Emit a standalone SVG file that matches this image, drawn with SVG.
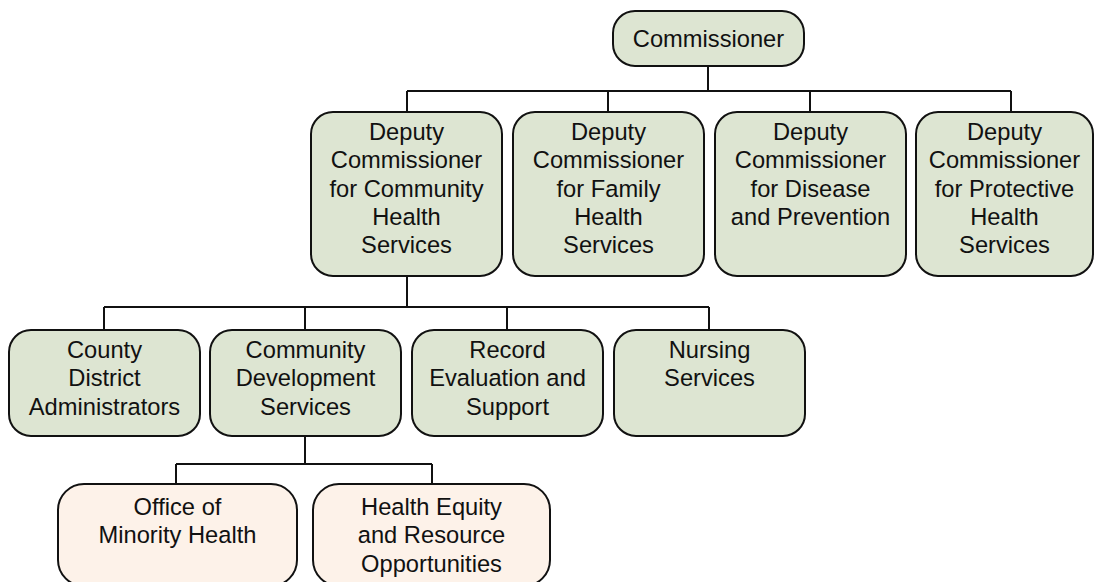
<svg xmlns="http://www.w3.org/2000/svg" width="1095" height="582" viewBox="0 0 1095 582">
  <style>
    .box { fill: #dde5d2; stroke: #111; stroke-width: 2; }
    .box.peach { fill: #fdf2e9; }
    .lbl { font-family: "Liberation Sans", Arial, sans-serif; font-size: 23.7px; fill: #111; text-anchor: middle; }
    .wire { fill: none; stroke: #111; stroke-width: 2; }
  </style>
  <rect width="1095" height="582" fill="#ffffff"/>

  <!-- reporting lines -->
  <g id="connectors">
    <path class="wire" d="M708,66 V91 M407,91 H1011 M407,91 V112 M608,91 V112 M810,91 V112 M1011,91 V112"/>
    <path class="wire" d="M407,276 V307 M104,307 H709 M104,307 V330 M305,307 V330 M507,307 V330 M709,307 V330"/>
    <path class="wire" d="M305,436 V464 M176,464 H432 M176,464 V484 M432,464 V484"/>
  </g>

  <g id="commissioner">
    <rect class="box" x="613" y="11" width="191" height="55" rx="22"/>
    <text class="lbl" x="708.5" y="47">Commissioner</text>
  </g>

  <g id="dc-community">
    <rect class="box" x="311" y="112" width="191" height="164" rx="22"/>
    <text class="lbl" x="406.5" y="140">Deputy<tspan x="406.5" dy="28.3">Commissioner</tspan><tspan x="406.5" dy="28.3">for Community</tspan><tspan x="406.5" dy="28.3">Health</tspan><tspan x="406.5" dy="28.3">Services</tspan></text>
  </g>

  <g id="dc-family">
    <rect class="box" x="513" y="112" width="191" height="164" rx="22"/>
    <text class="lbl" x="608.5" y="140">Deputy<tspan x="608.5" dy="28.3">Commissioner</tspan><tspan x="608.5" dy="28.3">for Family</tspan><tspan x="608.5" dy="28.3">Health</tspan><tspan x="608.5" dy="28.3">Services</tspan></text>
  </g>

  <g id="dc-disease">
    <rect class="box" x="715" y="112" width="191" height="164" rx="22"/>
    <text class="lbl" x="810.5" y="140">Deputy<tspan x="810.5" dy="28.3">Commissioner</tspan><tspan x="810.5" dy="28.3">for Disease</tspan><tspan x="810.5" dy="28.3">and Prevention</tspan></text>
  </g>

  <g id="dc-protective">
    <rect class="box" x="916" y="112" width="177" height="164" rx="22"/>
    <text class="lbl" x="1004.5" y="140">Deputy<tspan x="1004.5" dy="28.3">Commissioner</tspan><tspan x="1004.5" dy="28.3">for Protective</tspan><tspan x="1004.5" dy="28.3">Health</tspan><tspan x="1004.5" dy="28.3">Services</tspan></text>
  </g>

  <g id="county-district">
    <rect class="box" x="9" y="330" width="191" height="106" rx="22"/>
    <text class="lbl" x="104.5" y="358">County<tspan x="104.5" dy="28.3">District</tspan><tspan x="104.5" dy="28.3">Administrators</tspan></text>
  </g>

  <g id="community-development">
    <rect class="box" x="210" y="330" width="191" height="106" rx="22"/>
    <text class="lbl" x="305.5" y="358">Community<tspan x="305.5" dy="28.3">Development</tspan><tspan x="305.5" dy="28.3">Services</tspan></text>
  </g>

  <g id="record-evaluation">
    <rect class="box" x="412" y="330" width="191" height="106" rx="22"/>
    <text class="lbl" x="507.5" y="358">Record<tspan x="507.5" dy="28.3">Evaluation and</tspan><tspan x="507.5" dy="28.3">Support</tspan></text>
  </g>

  <g id="nursing">
    <rect class="box" x="614" y="330" width="191" height="106" rx="22"/>
    <text class="lbl" x="709.5" y="358">Nursing<tspan x="709.5" dy="28.3">Services</tspan></text>
  </g>

  <g id="minority-health">
    <rect class="box peach" x="58" y="484" width="239" height="102" rx="26"/>
    <text class="lbl" x="177.5" y="515">Office of<tspan x="177.5" dy="28.3">Minority Health</tspan></text>
  </g>

  <g id="health-equity">
    <rect class="box peach" x="313" y="484" width="237" height="102" rx="26"/>
    <text class="lbl" x="431.5" y="515">Health Equity<tspan x="431.5" dy="28.3">and Resource</tspan><tspan x="431.5" dy="28.3">Opportunities</tspan></text>
  </g>
</svg>
